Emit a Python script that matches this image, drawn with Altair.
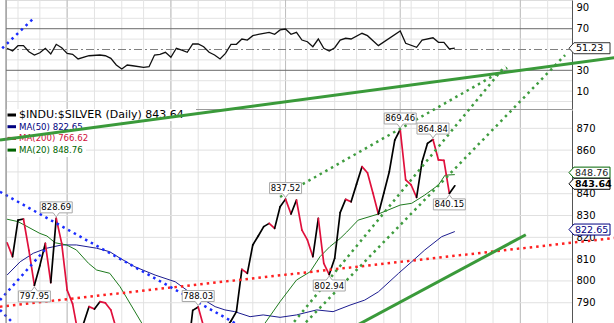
import altair as alt
import pandas as pd

# ---------------- data ----------------
PRICE_DAYS = [0, 1, 2, 3, 4, 5, 6, 7, 8, 9, 10, 11, 12, 13, 14, 15, 16, 17, 18, 19, 20,
              33, 34, 35, 36,
              40, 41, 42, 43, 44, 45, 46, 47, 48, 49, 50, 51, 52, 53, 54, 55, 56, 57, 58, 59,
              60, 61, 62, 63, 64, 65, 66, 67, 68, 69, 70, 71, 72, 73, 74, 75, 76, 77, 78, 79,
              80, 81, 82]
PRICE_VALS = [817.5, 811.1, 827.9, 828.4, 814.0, 797.95, 807.0, 817.2, 799.2, 828.69, 817.2,
              795.8, 789.5, 776.0, 780.5, 788.2, 787.1, 790.5, 789.9, 786.7, 778.0,
              765.0, 786.5, 788.03, 779.0,
              778.0, 781.6, 785.9, 805.3, 803.5, 816.5, 820.6, 824.9, 826.4, 824.1, 834.0,
              837.52, 830.7, 837.1, 823.3, 818.8, 811.1, 828.7, 808.1, 802.94, 810.4, 831.3,
              837.4, 836.3, 844.4, 852.4, 849.6, 840.3, 830.7, 840.3, 850.1, 864.6, 869.46,
              846.3, 844.0, 838.3, 854.7, 863.1, 864.84, 855.5, 855.3, 840.15, 843.64]

MA50_DAYS = [0, 2.4, 4.8, 7.25, 10, 12.7, 16.4, 18.8, 20.7, 23.4, 27.1, 30.8, 32.9, 35.6, 38.1,
             39.9, 41.7, 44.5, 46.9, 50, 53, 56.7, 59.7, 62.8, 65.5, 68, 71.7, 74.1, 76.5, 79.6, 82]
MA50_VALS = [802.7, 808.8, 812.7, 815.0, 816.5, 816.5, 815.0, 813.4, 810.4, 806.5, 802.7, 799.6,
             795.8, 792.0, 788.2, 786.7, 785.9, 783.6, 784.4, 783.3, 784.4, 786.7, 785.9, 788.9,
             791.2, 795.0, 803.5, 808.8, 814.2, 820.3, 822.65]

MA20_DAYS = [0, 2, 6, 7.3, 8.8, 10.9, 12.7, 14.9, 16.4, 18.8, 20.7, 24.7, 30, 40, 47.2, 50, 53,
             55.5, 57.3, 59.1, 61, 62.2, 64.3, 68, 72, 74.1, 76.5, 79, 80.2, 82]
MA20_VALS = [828.3, 827.2, 821.8, 820.6, 817.5, 816.5, 814.2, 808.1, 805.0, 803.5, 797.3, 780.5,
             770.0, 772.0, 780.5, 790.5, 800.4, 804.2, 811.1, 815.7, 819.5, 822.4, 827.9, 830.7,
             834.8, 835.6, 839.4, 844.0, 848.5, 848.76]

RSI_DAYS = [0, 1, 2, 3, 4, 5, 6, 7, 8, 9, 10, 11, 12, 13, 15, 17, 18, 19, 20, 21, 22, 23, 25, 26,
            27, 28, 29, 30, 31, 32, 33, 34, 35, 36, 37, 38, 39, 40, 41, 42, 43, 44, 45, 46, 48,
            49, 50, 51, 52, 53, 54, 55, 56, 57, 58, 59, 60, 61, 62, 63, 65, 66, 68, 72, 73, 75,
            76, 78, 79, 80, 81, 82]
RSI_VALS = [51.2, 48.6, 53.7, 53.7, 47.9, 44.7, 46.9, 51.2, 45.7, 55.0, 51.7, 46.3, 45.4, 40.9,
            44.0, 44.7, 44.0, 41.5, 35.1, 31.3, 35.1, 34.4, 32.9, 33.5, 44.7, 45.4, 47.3, 42.5,
            51.2, 49.5, 47.3, 55.3, 55.3, 52.7, 47.3, 44.7, 40.9, 46.3, 55.0, 55.0, 60.1, 59.1,
            63.3, 64.6, 66.5, 64.6, 68.8, 69.7, 64.6, 66.5, 59.1, 57.5, 52.7, 60.1, 51.2, 48.6,
            51.7, 59.1, 60.8, 60.1, 65.6, 63.3, 53.7, 67.8, 56.0, 52.1, 59.1, 61.3, 56.9, 56.9,
            50.5, 51.23]

ANN_DAYS = [9, 5, 35, 51, 59, 72, 78, 81]
ANN_VALS = [828.69, 797.95, 788.03, 837.52, 802.94, 869.46, 864.84, 840.15]
ANN_SIDE = ["hi", "lo", "hi", "hi", "lo", "hi", "hi", "lo"]

LEGEND_LABELS = ["$INDU:$SILVER (Daily) 843.64", "MA(50) 822.65", "MA(200) 766.62", "MA(20) 848.76"]
LEGEND_COLORS = ["#000000", "#000080", "#d0103a", "#006400"]

TAG_VALS = [848.76, 843.64, 822.65]
TAG_BORDER = ["#006400", "#000000", "#000080"]
TAG_TEXT = ["#222222", "#000000", "#000080"]
TAG_BOLD = [False, True, False]
RSI_LAST = 51.23

WEEK_DAYS = [2, 6, 11, 16, 21, 25, 30, 35, 40, 45, 50, 55, 60, 64, 69, 74, 79, 84, 89, 94, 99]
MONTH_DAYS = [11, 30, 51, 72, 94]
RSI_TICKS = [10, 30, 70, 90]
RSI_GRID = [0, 10, 20, 40, 60, 80, 90]
PRICE_GRID = [790, 800, 810, 820, 830, 840, 850, 860, 870]
PRICE_LABELS = [790, 800, 810, 820, 830, 840, 860, 870]   # 850 sits under the 848.76 tag

# trend lines (day, value) -> (day, value)
GREEN_SOLID = {"d0": [-1.3, 63.6], "p0": [864.6, 779.0], "d1": [111.2, 95.0], "p1": [902.4, 821.2]}
GREEN_DOT = {"d0": [50.0, 51.8, 53.9], "p0": [838.5, 778.9, 778.9],
             "d1": [91.6, 91.2, 102.2], "p1": [897.7, 898.6, 903.6]}
BLUE_DOT = {"d0": [-1.3, -1.3, -1.3], "p0": [840.9, 791.2, 786.7],
            "d1": [43.0, 6.9, 1.8], "p1": [778.9, 814.2, 778.9]}
RED_DOT = {"d0": [-1.3], "p0": [788.2], "d1": [111.2], "p1": [819.7]}
BLUE_RSI = {"d0": [-0.9], "p0": [51.2], "d1": [4.7], "p1": [79.3]}

# ---------------- frames ----------------
seg = pd.DataFrame({
    "d0": PRICE_DAYS[:-1], "p0": PRICE_VALS[:-1],
    "d1": PRICE_DAYS[1:], "p1": PRICE_VALS[1:],
})
seg["col"] = ["#000000" if b > a else "#e0103c" for a, b in zip(seg["p0"], seg["p1"])]
ma50 = pd.DataFrame({"d": MA50_DAYS, "v": MA50_VALS})
ma20 = pd.DataFrame({"d": MA20_DAYS, "v": MA20_VALS})
rsi = pd.DataFrame({"d": RSI_DAYS, "v": RSI_VALS})
ann = pd.DataFrame({"d": ANN_DAYS, "v": ANN_VALS, "side": ANN_SIDE})
ann["label"] = [f"{v:.2f}" for v in ANN_VALS]
leg = pd.DataFrame({"label": LEGEND_LABELS, "c": LEGEND_COLORS})
leg["py"] = [115 + 11.7 * i for i in range(len(leg))]
leg["fs"] = [11, 8.6, 8.6, 8.6]
tags = pd.DataFrame({"v": TAG_VALS, "b": TAG_BORDER, "t": TAG_TEXT, "bold": TAG_BOLD})
tags["label"] = [f"{v:.2f}" for v in TAG_VALS]

W, H = 566, 323
FONT = "DejaVu Sans"
XS = alt.Scale(domain=[-0.2, 103.46], nice=False, zero=False)
RSI_S = alt.Scale(domain=[-7.2, 97.6], range=[109, 0], nice=False, zero=False)
PX_S = alt.Scale(domain=[780.7, 878.4], range=[323, 110], nice=False, zero=False)


def X(f):
    return alt.X(f"{f}:Q", scale=XS, axis=None)


def YR(f, axis=None):
    return alt.Y(f"{f}:Q", scale=RSI_S, axis=axis)


def YP(f, axis=None):
    return alt.Y(f"{f}:Q", scale=PX_S, axis=axis)


rsi_axis = alt.Axis(orient="right", values=RSI_TICKS, title=None, ticks=False, grid=False,
                    domainColor="#555555", labelFontSize=10, labelColor="#000000",
                    labelPadding=4, labelOverlap=False, labelFont=FONT)
px_axis = alt.Axis(orient="right", values=PRICE_LABELS, title=None, ticks=False, grid=False,
                   domainColor="#555555", labelFontSize=10, labelColor="#000000",
                   labelPadding=4, labelOverlap=False, labelFont=FONT)

layers = []
# vertical grid
layers.append(alt.Chart(pd.DataFrame({"d": WEEK_DAYS})).mark_rule(color="#e3e3e3", strokeWidth=1)
              .encode(x=X("d"), y=alt.value(0), y2=alt.value(H)))
layers.append(alt.Chart(pd.DataFrame({"d": MONTH_DAYS})).mark_rule(color="#bdbdbd", strokeWidth=1)
              .encode(x=X("d"), y=alt.value(0), y2=alt.value(H)))
# horizontal grids + axes
layers.append(alt.Chart(pd.DataFrame({"v": RSI_GRID})).mark_rule(color="#e3e3e3", strokeWidth=1)
              .encode(y=YR("v", rsi_axis), x=alt.value(0), x2=alt.value(W)))
layers.append(alt.Chart(pd.DataFrame({"v": PRICE_GRID})).mark_rule(color="#e0e0e0", strokeWidth=1)
              .encode(y=YP("v", px_axis), x=alt.value(0), x2=alt.value(W)))
# panel separator
layers.append(alt.Chart(pd.DataFrame({"v": [0]})).mark_rule(color="#999999", strokeWidth=1)
              .encode(y=alt.value(109.5), x=alt.value(0), x2=alt.value(W)))
# RSI reference lines
layers.append(alt.Chart(pd.DataFrame({"v": [70, 30]})).mark_rule(color="#6a6a6a", strokeWidth=1)
              .encode(y=YR("v"), x=alt.value(0), x2=alt.value(W)))
layers.append(alt.Chart(pd.DataFrame({"v": [50]})).mark_rule(color="#808080", strokeWidth=1,
                                                           strokeDash=[8, 3, 2, 3])
              .encode(y=YR("v"), x=alt.value(0), x2=alt.value(W)))
# RSI line
layers.append(alt.Chart(rsi).mark_line(color="#111111", strokeWidth=1.3, clip=False)
              .encode(x=X("d"), y=YR("v")))
# moving averages
layers.append(alt.Chart(ma50).mark_line(color="#1c1c90", strokeWidth=1, clip=False)
              .encode(x=X("d"), y=YP("v")))
layers.append(alt.Chart(ma20).mark_line(color="#1e7a1e", strokeWidth=1, clip=False)
              .encode(x=X("d"), y=YP("v")))
# price line coloured by direction
layers.append(alt.Chart(seg).mark_rule(strokeWidth=1.7, strokeCap="round", clip=False)
              .encode(x=X("d0"), x2="d1:Q", y=YP("p0"), y2="p1:Q",
                      color=alt.Color("col:N", scale=None)))
# legend
layers.append(alt.Chart(leg.iloc[:1]).mark_rect(color="white")
              .encode(x=alt.value(0), x2=alt.value(190), y=alt.value(109), y2=alt.value(121)))
layers.append(alt.Chart(leg.iloc[1:]).mark_rect(color="white")
              .encode(x=alt.value(0), x2=alt.value(80), y=alt.value(121), y2=alt.value(157)))
layers.append(alt.Chart(leg).mark_rule(strokeWidth=3)
              .encode(x=alt.value(1.5), x2=alt.value(10), y=alt.Y("py:Q", scale=None),
                      color=alt.Color("c:N", scale=None)))
layers.append(alt.Chart(leg).mark_text(align="left", baseline="middle", font=FONT)
              .encode(x=alt.value(13), y=alt.Y("py:Q", scale=None), text="label:N",
                      size=alt.Size("fs:Q", scale=None), color=alt.Color("c:N", scale=None)))


def trend(dct, yfn, **mk):
    df = pd.DataFrame(dct)
    return (alt.Chart(df).mark_rule(clip=False, **mk)
            .encode(x=X("d0"), x2="d1:Q", y=yfn("p0"), y2="p1:Q"))


layers.append(trend(RED_DOT, YP, color="#ff2020", strokeWidth=2.5, strokeDash=[2.5, 4]))
layers.append(trend(BLUE_DOT, YP, color="#1a2cff", strokeWidth=2.5, strokeDash=[2.5, 4]))
layers.append(trend(BLUE_RSI, YR, color="#1a2cff", strokeWidth=2.5, strokeDash=[2.5, 4]))
layers.append(trend(GREEN_DOT, YP, color="#3f9c3f", strokeWidth=2.5, strokeDash=[2.5, 4]))
layers.append(trend(GREEN_SOLID, YP, color="#3a9a3a", strokeWidth=3))

# annotation boxes
HI_PATH = "M-16,-16.5L16,-16.5L16,-5.5L3,-5.5L0,-1.5L-3,-5.5L-16,-5.5Z"
LO_PATH = "M-16,16.5L16,16.5L16,5.5L3,5.5L0,1.5L-3,5.5L-16,5.5Z"
for side, path, dy in (("hi", HI_PATH, -11), ("lo", LO_PATH, 11)):
    sub = ann[ann["side"] == side]
    layers.append(alt.Chart(sub).mark_point(shape=path, size=4, filled=True, fill="white",
                                            stroke="#a8a8a8", strokeWidth=1, opacity=1, clip=False)
                  .encode(x=X("d"), y=YP("v")))
    layers.append(alt.Chart(sub).mark_text(dy=dy, baseline="middle", font=FONT, fontSize=8.5,
                                           color="#000000", clip=False)
                  .encode(x=X("d"), y=YP("v"), text="label:N"))

# right-hand value tags (nudged up slightly, as in the reference)
TAG_PATH = "M0,-2L5,-7.5L41,-7.5L41,3.5L5,3.5Z"
layers.append(alt.Chart(tags).mark_point(shape=TAG_PATH, size=4, filled=True, fill="white",
                                         strokeWidth=1, opacity=1, clip=False)
              .encode(x=alt.value(W - 3), y=YP("v"), stroke=alt.Color("b:N", scale=None)))
for bold in (False, True):
    sub = tags[tags["bold"] == bold]
    layers.append(alt.Chart(sub).mark_text(align="left", baseline="middle", font=FONT, dy=-2,
                                           fontSize=9.5, fontWeight="bold" if bold else "normal",
                                           clip=False)
                  .encode(x=alt.value(W + 3), y=YP("v"), text="label:N",
                          color=alt.Color("t:N", scale=None)))
rtag = pd.DataFrame({"v": [RSI_LAST], "label": [f"{RSI_LAST:.2f}"]})
RTAG_PATH = "M0,0L5,-5.5L41,-5.5L41,5.5L5,5.5Z"
layers.append(alt.Chart(rtag).mark_point(shape=RTAG_PATH, size=4, filled=True, fill="white",
                                         stroke="#333333", strokeWidth=1, opacity=1, clip=False)
              .encode(x=alt.value(W - 3), y=YR("v")))
layers.append(alt.Chart(rtag).mark_text(align="left", baseline="middle", font=FONT, fontSize=9.5,
                                        color="#000000", clip=False)
              .encode(x=alt.value(W + 4), y=YR("v"), text="label:N"))
# left border
layers.append(alt.Chart(pd.DataFrame({"v": [0]})).mark_rule(color="#777777", strokeWidth=1)
              .encode(x=alt.value(0), y=alt.value(0), y2=alt.value(H)))

chart = (alt.layer(*layers)
         .resolve_scale(y="independent")
         .properties(width=W, height=H,
                     padding={"left": 6, "top": 0, "right": 42, "bottom": 0},
                     autosize=alt.AutoSizeParams(type="none"))
         .configure_view(stroke=None)
         .configure(background="white"))

chart.save("out.html", embed_options={"renderer": "svg", "actions": False})
